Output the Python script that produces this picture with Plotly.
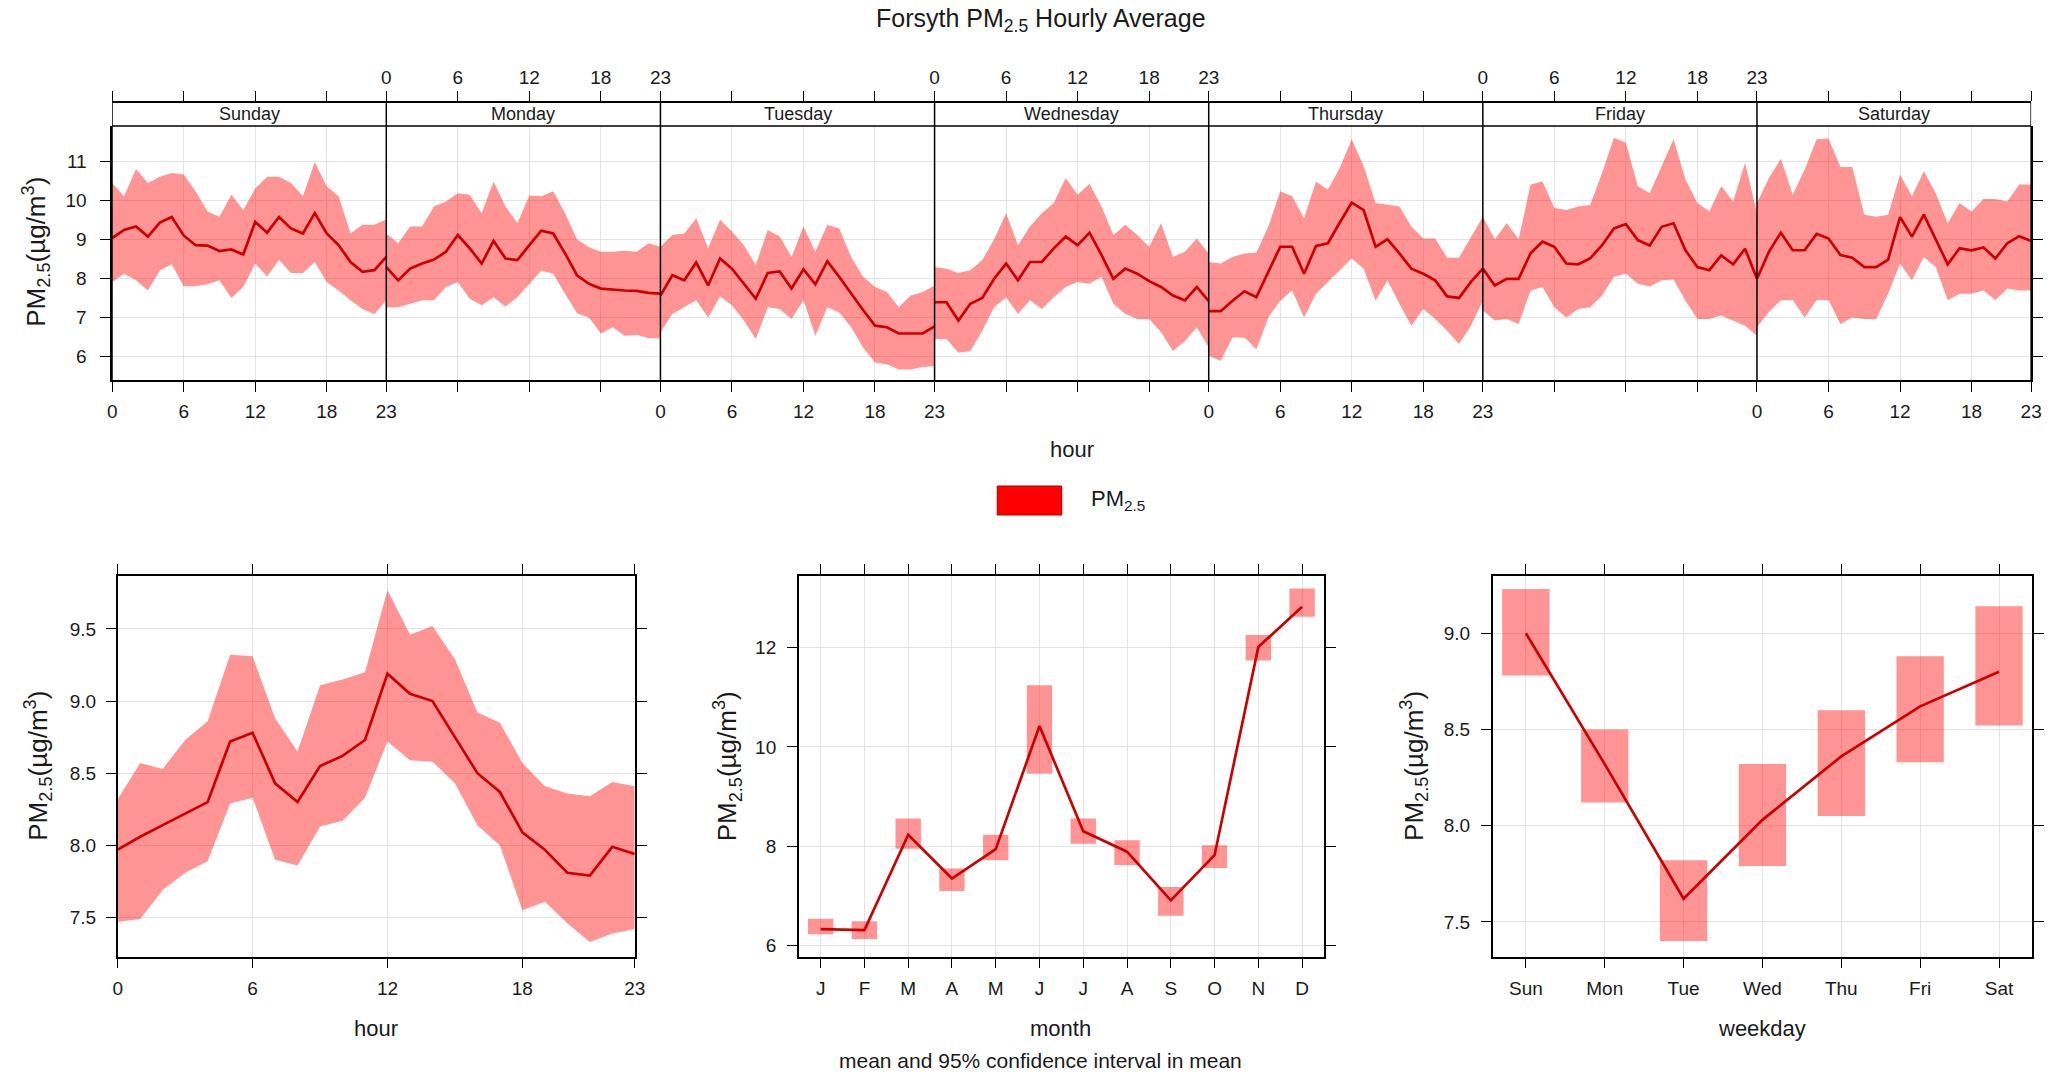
import plotly.graph_objects as go

W, H = 2059, 1076

# ---------------- data: hour x weekday (top panel) ----------------
days = ["Sunday", "Monday", "Tuesday", "Wednesday", "Thursday", "Friday", "Saturday"]
hour_ticks = [0, 6, 12, 18, 23]

sunday_mean = [9.03, 9.24, 9.33, 9.07, 9.43, 9.57, 9.10, 8.85, 8.84, 8.70, 8.74, 8.61, 9.45, 9.17, 9.57, 9.28, 9.15, 9.67, 9.15, 8.85, 8.42, 8.17, 8.21, 8.55]
sunday_upper = [10.44, 10.10, 10.80, 10.44, 10.60, 10.70, 10.66, 10.23, 9.71, 9.58, 10.14, 9.75, 10.30, 10.60, 10.60, 10.44, 10.10, 10.98, 10.36, 10.10, 9.15, 9.37, 9.37, 9.51]
sunday_lower = [7.91, 8.12, 7.95, 7.69, 8.20, 8.36, 7.80, 7.80, 7.85, 7.95, 7.50, 7.78, 8.38, 8.05, 8.47, 8.14, 8.14, 8.42, 7.91, 7.69, 7.44, 7.22, 7.09, 7.44]

monday_mean = [8.29, 7.95, 8.25, 8.38, 8.48, 8.68, 9.11, 8.77, 8.38, 8.96, 8.51, 8.47, 8.85, 9.22, 9.15, 8.64, 8.08, 7.86, 7.74, 7.71, 7.69, 7.68, 7.63, 7.61]
monday_upper = [9.15, 8.90, 9.33, 9.33, 9.84, 9.97, 10.18, 10.14, 9.67, 10.48, 9.84, 9.41, 10.12, 10.10, 10.23, 9.67, 9.00, 8.80, 8.68, 8.68, 8.71, 8.68, 8.90, 8.81]
monday_lower = [7.26, 7.26, 7.35, 7.44, 7.44, 7.78, 7.91, 7.48, 7.31, 7.52, 7.28, 7.52, 7.86, 8.20, 8.12, 7.61, 7.11, 7.00, 6.59, 6.75, 6.53, 6.56, 6.47, 6.47]

tuesday_mean = [7.56, 8.08, 7.95, 8.41, 7.82, 8.51, 8.25, 7.86, 7.48, 8.14, 8.18, 7.74, 8.23, 7.85, 8.44, 8.04, 7.61, 7.19, 6.79, 6.75, 6.59, 6.59, 6.59, 6.77]
tuesday_upper = [8.81, 9.11, 9.15, 9.54, 8.77, 9.50, 9.20, 8.85, 8.34, 9.24, 9.07, 8.55, 9.33, 8.68, 9.37, 9.28, 8.55, 8.04, 7.78, 7.65, 7.26, 7.56, 7.65, 7.82]
tuesday_lower = [6.62, 7.09, 7.26, 7.44, 7.00, 7.54, 7.31, 6.92, 6.45, 7.26, 7.22, 6.96, 7.44, 6.53, 7.26, 7.13, 6.75, 6.23, 5.85, 5.80, 5.67, 5.67, 5.73, 5.76]

wednesday_mean = [7.39, 7.39, 6.92, 7.35, 7.50, 7.99, 8.38, 7.95, 8.42, 8.42, 8.77, 9.07, 8.85, 9.17, 8.60, 7.99, 8.25, 8.12, 7.93, 7.78, 7.56, 7.44, 7.78, 7.42]
wednesday_upper = [8.29, 8.25, 8.14, 8.21, 8.47, 9.00, 9.67, 8.85, 9.33, 9.67, 9.93, 10.57, 10.14, 10.42, 9.84, 9.11, 9.37, 9.11, 8.81, 9.41, 8.55, 8.68, 9.02, 8.64]
wednesday_lower = [6.45, 6.45, 6.10, 6.14, 6.66, 7.26, 7.52, 7.09, 7.44, 7.22, 7.52, 7.78, 7.91, 7.86, 8.04, 7.35, 7.09, 6.96, 6.96, 6.62, 6.14, 6.40, 6.75, 6.23]

thursday_mean = [7.16, 7.16, 7.43, 7.67, 7.52, 8.17, 8.81, 8.81, 8.12, 8.83, 8.90, 9.43, 9.94, 9.75, 8.81, 9.00, 8.64, 8.25, 8.12, 7.95, 7.54, 7.50, 7.91, 8.25]
thursday_upper = [8.42, 8.38, 8.55, 8.64, 8.66, 9.33, 10.23, 10.10, 9.54, 10.48, 10.27, 10.83, 11.56, 10.87, 9.93, 9.88, 9.84, 9.33, 9.02, 9.02, 8.53, 8.53, 9.07, 9.58]
thursday_lower = [6.02, 5.89, 6.49, 6.49, 6.19, 7.00, 7.43, 7.69, 7.00, 7.61, 7.91, 8.21, 8.51, 8.25, 7.43, 7.95, 7.35, 6.79, 7.22, 6.96, 6.66, 6.32, 6.79, 7.43]

friday_mean = [8.25, 7.82, 7.99, 7.99, 8.64, 8.94, 8.81, 8.38, 8.36, 8.51, 8.85, 9.28, 9.39, 8.98, 8.84, 9.32, 9.41, 8.72, 8.29, 8.21, 8.59, 8.36, 8.76, 7.99]
friday_upper = [9.58, 9.00, 9.41, 9.00, 10.40, 10.48, 9.80, 9.75, 9.84, 9.88, 10.70, 11.60, 11.47, 10.36, 10.18, 10.87, 11.56, 10.53, 9.93, 9.71, 10.36, 9.97, 10.96, 9.67]
friday_lower = [7.18, 6.92, 6.96, 6.83, 7.69, 7.78, 7.26, 7.00, 7.22, 7.26, 7.56, 8.04, 8.12, 7.86, 7.79, 7.95, 7.97, 7.43, 6.96, 6.96, 7.05, 6.92, 6.79, 6.53]

saturday_mean = [7.99, 8.68, 9.17, 8.72, 8.72, 9.14, 9.02, 8.60, 8.53, 8.29, 8.29, 8.48, 9.57, 9.07, 9.63, 8.98, 8.36, 8.77, 8.72, 8.79, 8.51, 8.90, 9.08, 8.96]
saturday_upper = [9.93, 10.57, 11.06, 10.14, 10.79, 11.56, 11.58, 10.85, 10.85, 9.63, 9.58, 9.63, 10.66, 10.10, 10.74, 10.18, 9.41, 9.93, 9.71, 10.03, 10.03, 9.97, 10.40, 10.40]
saturday_lower = [6.75, 7.14, 7.44, 7.45, 7.00, 7.45, 7.45, 6.83, 7.00, 6.96, 6.96, 7.61, 8.38, 7.95, 8.55, 8.29, 7.44, 7.61, 7.61, 7.69, 7.45, 7.74, 7.69, 7.69]

# ---------------- data: hour (bottom left) ----------------
hours = list(range(24))
hourly_mean = [7.97, 8.06, 8.14, 8.22, 8.30, 8.72, 8.78, 8.43, 8.30, 8.55, 8.62, 8.73, 9.19, 9.05, 9.00, 8.75, 8.50, 8.37, 8.09, 7.97, 7.81, 7.79, 7.99, 7.94]
hourly_upper = [8.32, 8.57, 8.53, 8.73, 8.86, 9.32, 9.31, 8.88, 8.65, 9.11, 9.15, 9.20, 9.77, 9.46, 9.52, 9.29, 8.92, 8.85, 8.57, 8.41, 8.36, 8.34, 8.44, 8.41]
hourly_lower = [7.47, 7.49, 7.69, 7.81, 7.89, 8.29, 8.33, 7.90, 7.86, 8.13, 8.17, 8.33, 8.72, 8.59, 8.58, 8.43, 8.14, 8.00, 7.55, 7.61, 7.46, 7.33, 7.39, 7.42]

# ---------------- data: month (bottom middle) ----------------
months = ["J", "F", "M", "A", "M", "J", "J", "A", "S", "O", "N", "D"]
monthly_mean = [6.33, 6.31, 8.23, 7.35, 7.94, 10.42, 8.30, 7.89, 6.91, 7.82, 12.01, 12.82]
monthly_upper = [6.54, 6.49, 8.56, 7.55, 8.23, 11.24, 8.56, 8.12, 7.18, 8.02, 12.25, 13.19]
monthly_lower = [6.23, 6.13, 7.95, 7.10, 7.72, 9.46, 8.05, 7.62, 6.60, 7.56, 11.74, 12.62]

# ---------------- data: weekday (bottom right) ----------------
weekdays = ["Sun", "Mon", "Tue", "Wed", "Thu", "Fri", "Sat"]
weekday_mean = [9.00, 8.32, 7.62, 8.03, 8.36, 8.62, 8.80]
weekday_upper = [9.23, 8.50, 7.82, 8.32, 8.60, 8.88, 9.14]
weekday_lower = [8.78, 8.12, 7.40, 7.79, 8.05, 8.33, 8.52]

week_means = [sunday_mean, monday_mean, tuesday_mean, wednesday_mean, thursday_mean, friday_mean, saturday_mean]
week_uppers = [sunday_upper, monday_upper, tuesday_upper, wednesday_upper, thursday_upper, friday_upper, saturday_upper]
week_lowers = [sunday_lower, monday_lower, tuesday_lower, wednesday_lower, thursday_lower, friday_lower, saturday_lower]

# ---------------- styling ----------------
FONT = "Liberation Sans, Arial, sans-serif"
TXT = "#1a1a1a"
BAND = "rgba(255,0,0,0.42)"
LINE = "#CC0000"
GRID = "#E3E3E3"
TICK = 19


def px(x):
    return x / W


def py(y):
    return 1 - y / H


fig = go.Figure()

SPAN = 23  # each day panel spans hours 0..23
for d in range(7):
    xs = [d * SPAN + h for h in hours]
    fig.add_trace(go.Scatter(
        x=xs + xs[::-1], y=week_uppers[d] + week_lowers[d][::-1],
        fill="toself", fillcolor=BAND, line=dict(width=0), mode="lines",
        hoverinfo="skip", showlegend=False, xaxis="x", yaxis="y"))
for d in range(7):
    xs = [d * SPAN + h for h in hours]
    fig.add_trace(go.Scatter(
        x=xs, y=week_means[d], mode="lines", line=dict(color=LINE, width=2.7),
        showlegend=False, xaxis="x", yaxis="y"))
# dummy trace for the top axis
fig.add_trace(go.Scatter(x=[0, 7 * SPAN], y=[None, None], mode="lines",
                         showlegend=False, hoverinfo="skip", xaxis="x2", yaxis="y"))

# bottom left: hour
fig.add_trace(go.Scatter(x=hours + hours[::-1], y=hourly_upper + hourly_lower[::-1],
                         fill="toself", fillcolor=BAND, line=dict(width=0), mode="lines",
                         hoverinfo="skip", showlegend=False, xaxis="x3", yaxis="y3"))
fig.add_trace(go.Scatter(x=hours, y=hourly_mean, mode="lines", line=dict(color=LINE, width=2.7),
                         showlegend=False, xaxis="x3", yaxis="y3"))

# bottom middle: month
midx = list(range(len(months)))
fig.add_trace(go.Bar(x=midx, y=[u - l for u, l in zip(monthly_upper, monthly_lower)],
                     base=monthly_lower, width=0.58, marker=dict(color=BAND, line=dict(width=0)),
                     showlegend=False, xaxis="x4", yaxis="y4"))
fig.add_trace(go.Scatter(x=midx, y=monthly_mean, mode="lines", line=dict(color=LINE, width=2.7),
                         showlegend=False, xaxis="x4", yaxis="y4"))

# bottom right: weekday
widx = list(range(len(weekdays)))
fig.add_trace(go.Bar(x=widx, y=[u - l for u, l in zip(weekday_upper, weekday_lower)],
                     base=weekday_lower, width=0.6, marker=dict(color=BAND, line=dict(width=0)),
                     showlegend=False, xaxis="x5", yaxis="y5"))
fig.add_trace(go.Scatter(x=widx, y=weekday_mean, mode="lines", line=dict(color=LINE, width=2.7),
                         showlegend=False, xaxis="x5", yaxis="y5"))

# ---------------- top panel ticks ----------------
seen = {}
for d in range(7):
    for h in hour_ticks:
        p = d * SPAN + h
        b, t = seen.get(p, ("", ""))
        if d % 2 == 0:
            if b == "":
                b = str(h)
        else:
            if t == "":
                t = str(h)
        seen[p] = (b, t)
pos_ticks = sorted(seen)
txt_bottom = [seen[p][0] for p in pos_ticks]
txt_top = [seen[p][1] for p in pos_ticks]


def axis_style(standoff=6):
    return dict(showline=True, linecolor="black", linewidth=1.5, ticks="outside",
                ticklen=10, tickwidth=1.3, tickcolor="black", zeroline=False,
                gridcolor=GRID, gridwidth=1,
                tickfont=dict(size=TICK, color=TXT, family=FONT),
                ticklabelstandoff=standoff)


top_y0, top_y1 = 380, 126
strip_top = 102
bot_y0, bot_y1 = 956.5, 575.5

fig.update_layout(
    width=W, height=H, autosize=False,
    margin=dict(l=0, r=0, t=0, b=0),
    paper_bgcolor="white", plot_bgcolor="white",
    font=dict(family=FONT, color=TXT),
    showlegend=False,
    xaxis=dict(domain=[px(108), px(2042)], range=[0, 7 * SPAN], anchor="y",
               tickvals=pos_ticks, ticktext=txt_bottom, showgrid=True, **axis_style(3)),
    xaxis2=dict(overlaying="x", side="top", anchor="free", position=py(strip_top),
                range=[0, 7 * SPAN], tickvals=pos_ticks, ticktext=txt_top, showgrid=False,
                **axis_style(0)),
    yaxis=dict(domain=[py(top_y0), py(top_y1)], range=[5.4, 11.9], anchor="x",
               tickvals=[6, 7, 8, 9, 10, 11], mirror="ticks", showgrid=True, **axis_style(10)),
    xaxis3=dict(domain=[px(113.6), px(634.7)], range=[0, 23], anchor="y3",
                tickvals=hour_ticks, mirror="ticks", showgrid=True, **axis_style(4)),
    yaxis3=dict(domain=[py(bot_y0), py(bot_y1)], range=[7.23, 9.87], anchor="x3",
                tickvals=[7.5, 8.0, 8.5, 9.0, 9.5], tickformat=".1f", mirror="ticks",
                showgrid=True, **axis_style(6)),
    xaxis4=dict(domain=[px(800), px(1329.3)], range=[-0.5, 11.5], anchor="y4",
                tickvals=midx, ticktext=months, mirror="ticks", showgrid=True, **axis_style(4)),
    yaxis4=dict(domain=[py(bot_y0), py(bot_y1)], range=[5.78, 13.45], anchor="x4",
                tickvals=[6, 8, 10, 12], mirror="ticks", showgrid=True, **axis_style(7)),
    xaxis5=dict(domain=[px(1499.4), px(2043)], range=[-0.42, 6.42], anchor="y5",
                tickvals=widx, ticktext=weekdays, mirror="ticks", showgrid=True, **axis_style(4)),
    yaxis5=dict(domain=[py(bot_y0), py(bot_y1)], range=[7.32, 9.30], anchor="x5",
                tickvals=[7.5, 8.0, 8.5, 9.0], tickformat=".1f", mirror="ticks",
                showgrid=True, **axis_style(7)),
)

shapes = []
# top border of panel / bottom of strip
shapes.append(dict(type="line", xref="x", yref="paper", x0=0, x1=7 * SPAN,
                   y0=py(top_y1), y1=py(top_y1), line=dict(color="black", width=1.5)))
# vertical day separators through panel and strip
for d in range(8):
    shapes.append(dict(type="line", xref="x", yref="paper", x0=d * SPAN, x1=d * SPAN,
                       y0=py(top_y0), y1=py(strip_top), line=dict(color="black", width=1.5)))
# legend key
shapes.append(dict(type="rect", xref="paper", yref="paper", x0=px(1000), x1=px(1065),
                   y0=py(515), y1=py(486), fillcolor="#FF0000",
                   line=dict(color="#B00000", width=1)))
fig.update_layout(shapes=shapes)


def note(x, y, text, size, angle=0, xanchor="center"):
    return dict(x=px(x), y=py(y), xref="paper", yref="paper", showarrow=False,
                text=text, textangle=angle, xanchor=xanchor, yanchor="middle",
                font=dict(size=size, color=TXT, family=FONT))


ann = []
for d, name in enumerate(days):
    ann.append(dict(x=d * SPAN + SPAN / 2, y=py((strip_top + top_y1) / 2), xref="x", yref="paper",
                    text=name, showarrow=False, font=dict(size=18, color=TXT, family=FONT),
                    xanchor="center", yanchor="middle"))
ylab = "PM<sub>2.5</sub>(µg/m<sup>3</sup>)"
ann += [
    note(1044, 20, "Forsyth PM<sub>2.5</sub> Hourly Average", 25),
    note(31, 252, ylab, 26, -90),
    note(1075, 450, "hour", 22),
    note(1092, 500, "PM<sub>2.5</sub>", 22, xanchor="left"),
    note(33, 766, ylab, 26, -90),
    note(728, 766, ylab, 26, -90),
    note(1420, 766, ylab, 26, -90),
    note(374, 1028, "hour", 22),
    note(1064, 1028, "month", 22),
    note(1771, 1028, "weekday", 22),
    note(1044, 1060, "mean and 95% confidence interval in mean", 21),
]
fig.update_layout(annotations=ann)

fig.write_html("out.html")
